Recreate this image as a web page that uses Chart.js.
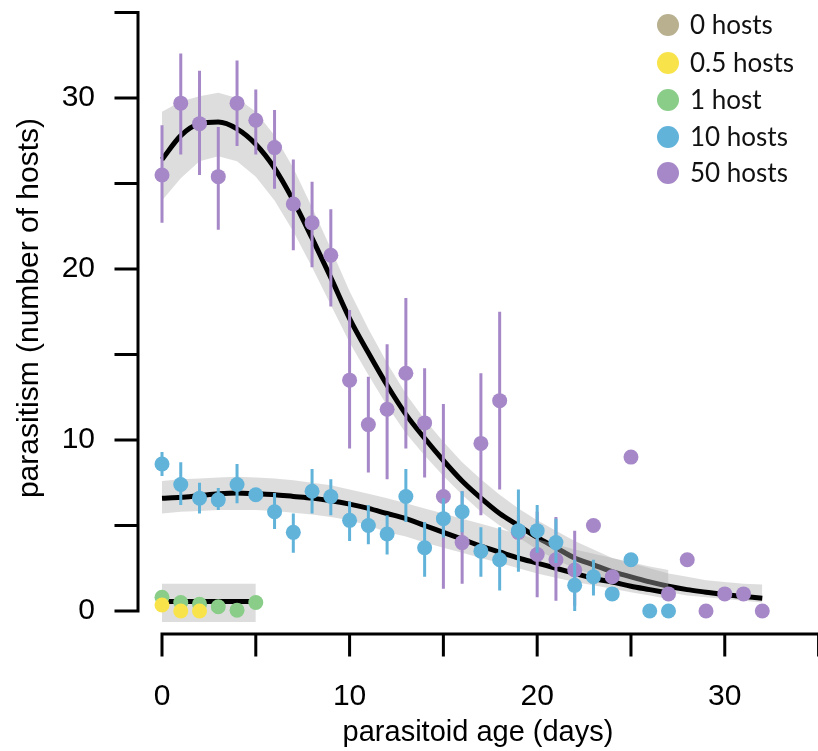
<!DOCTYPE html>
<html>
<head>
<meta charset="utf-8">
<script src="https://cdn.jsdelivr.net/npm/chart.js@4.4.1/dist/chart.umd.min.js"></script>
<style>
  html, body { margin: 0; padding: 0; background: #fff; }
  #wrap { width: 818px; height: 751px; position: relative; }
</style>
</head>
<body>
<div id="wrap"><canvas id="chart"></canvas></div>
<script>
// --- observed means with error bars ---
const days50 = [0,1,2,3,4,5,6,7,8,9,10,11,12,13,14,15,16,17,18,19,20,21,22,23,24,25,27,28,29,30,31,32];
const mean50 = [25.5,29.7,28.5,25.4,29.7,28.7,27.1,23.8,22.7,20.8,13.5,10.9,11.8,13.9,11.0,6.7,4.0,9.8,12.3,4.6,3.3,3.0,2.4,5.0,2.0,9.0,1.0,3.0,0,1.0,1.0,0];
const lo50   = [22.7,26.7,25.5,22.3,27.2,26.7,24.7,21.1,20.1,17.8,9.5,8.1,7.7,9.5,7.8,1.3,1.6,5.6,7.1,3.5,0.8,0.6,0.3,null,null,null,null,null,null,null,null,null];
const hi50   = [28.4,32.6,31.6,28.3,32.2,30.5,29.3,26.4,25.1,23.5,17.6,13.7,15.6,18.3,14.2,12.1,7.0,13.9,17.5,5.6,5.8,5.5,4.7,null,null,null,null,null,null,null,null,null];

const days10 = [0,1,2,3,4,5,6,7,8,9,10,11,12,13,14,15,16,17,18,19,20,21,22,23,24,25,26,27];
const mean10 = [8.6,7.4,6.6,6.5,7.4,6.8,5.8,4.6,7.0,6.7,5.3,5.0,4.5,6.7,3.7,5.4,5.8,3.5,3.0,4.7,4.7,4.0,1.5,2.0,1.0,3.0,0,0];
const lo10   = [7.9,6.2,5.7,5.9,6.3,6.4,4.8,3.4,5.7,5.6,4.1,3.9,3.3,5.2,2.0,4.3,4.6,2.0,1.2,2.3,3.4,2.8,0.0,0.9,null,null,null,null];
const hi10   = [9.3,8.7,7.5,7.2,8.6,7.2,6.9,5.7,8.3,7.7,6.4,6.2,5.6,8.3,5.2,6.6,7.0,4.9,4.9,7.1,6.2,5.4,3.0,3.0,null,null,null,null];

const days1  = [0,1,2,3,4,5];
const mean1  = [0.8,0.5,0.4,0.25,0.05,0.5];
const days05 = [0,1,2];
const mean05 = [0.35,0,0];
const days0  = [];
const mean0  = [];

// --- fitted curves and confidence bands ---
const fitDays50 = [0,1,2,3,4,5,6,7,8,9,10,11,12,13,14,15,16,17,18,19,20,21,22,23,24,25,26,27,28,29,30,31,32];
const fit50   = [26.4,27.8,28.5,28.6,28.2,27.3,25.9,24.0,21.8,19.5,17.1,15.1,13.2,11.5,10.1,8.8,7.6,6.6,5.7,5.0,4.3,3.7,3.1,2.7,2.3,2.0,1.7,1.45,1.25,1.1,0.95,0.85,0.75];
const fit50Lo = [24.0,25.3,26.3,26.6,26.3,25.4,24.0,22.2,20.1,17.9,15.7,13.8,12.0,10.4,9.1,7.9,6.8,5.8,5.0,4.3,3.6,3.0,2.5,2.1,1.8,1.5,1.3,1.1,0.9,0.8,0.7,0.6,0.5];
const fit50Hi = [29.2,29.8,30.1,30.3,30.0,29.2,27.8,25.9,23.6,21.2,18.7,16.5,14.5,12.7,11.2,9.9,8.7,7.7,6.8,6.0,5.3,4.7,4.1,3.6,3.1,2.8,2.5,2.2,2.0,1.8,1.7,1.6,1.55];

const fitDays10 = [0,1,2,3,4,5,6,7,8,9,10,11,12,13,14,15,16,17,18,19,20,21,22,23,24,25,26,27];
const fit10   = [6.6,6.65,6.75,6.85,6.9,6.85,6.8,6.7,6.6,6.45,6.25,6.0,5.7,5.4,5.0,4.6,4.2,3.8,3.45,3.1,2.8,2.5,2.2,1.9,1.7,1.45,1.25,1.05];
const fit10Lo = [5.7,5.8,5.85,5.9,5.9,5.9,5.85,5.75,5.65,5.5,5.3,5.0,4.6,4.35,4.0,3.7,3.4,3.1,2.8,2.5,2.2,1.95,1.7,1.5,1.3,1.1,0.9,0.7];
const fit10Hi = [7.6,7.7,7.75,7.8,7.85,7.8,7.75,7.65,7.5,7.35,7.1,6.85,6.6,6.3,6.0,5.7,5.4,5.1,4.8,4.5,4.2,3.9,3.6,3.35,3.1,2.85,2.6,2.4];

const fitDaysLow = [0,5];
const fitLow   = [0.55,0.55];
const fitLowLo = [-0.65,-0.65];
const fitLowHi = [1.6,1.6];

// --- axes and legend ---
const xTicks = [0,5,10,15,20,25,30,35];
const xLabels = [0,10,20,30];
const yTicks = [0,5,10,15,20,25,30,35];
const yLabels = [0,10,20,30];
const legendLabels = ['0 hosts','0.5 hosts','1 host','10 hosts','50 hosts'];
const legendColors = ['#b8b08f','#f8e44a','#8acd89','#62b3da','#a688c8'];

const BAND = 'rgba(175,175,175,0.42)';

function pts(xs, ys) {
    return xs.map((d, i) => ({x: d, y: ys[i]}));
}

function errSegments(xs, lo, hi) {
    const out = [];
    xs.forEach((d, i) => {
        if (lo[i] === null) return;
        out.push({x: d, y: lo[i]}, {x: d, y: hi[i]}, {x: d, y: null});
    });
    return out;
}

function bandPair(xs, lo, hi, ord) {
    return [
        {data: pts(xs, lo), borderWidth: 0, pointRadius: 0, fill: false, order: ord, clip: false},
        {data: pts(xs, hi), borderWidth: 0, pointRadius: 0, fill: '-1', backgroundColor: BAND, order: ord - 1, clip: false}
    ];
}

function curve(xs, ys, ord) {
    return {data: pts(xs, ys), borderColor: '#000', borderWidth: 5, pointRadius: 0,
            cubicInterpolationMode: 'monotone', fill: false, order: ord, clip: false};
}

function errBars(xs, lo, hi, color, ord) {
    return {data: errSegments(xs, lo, hi), borderColor: color, borderWidth: 3, pointRadius: 0,
            spanGaps: false, fill: false, order: ord, clip: false};
}

function dots(xs, ys, color, ord) {
    return {data: pts(xs, ys), showLine: false, pointRadius: 7.5, pointBorderWidth: 0,
            pointBackgroundColor: color, borderColor: color, order: ord, clip: false};
}

const datasets = [
    ...bandPair(fitDays50, fit50Lo, fit50Hi, 100),
    curve(fitDays50, fit50, 98),
    ...bandPair(fitDays10, fit10Lo, fit10Hi, 97),
    curve(fitDays10, fit10, 95),
    ...bandPair(fitDaysLow, fitLowLo, fitLowHi, 94),
    curve(fitDaysLow, fitLow, 92),
    errBars(days50, lo50, hi50, legendColors[4], 91),
    dots(days50, mean50, legendColors[4], 90),
    errBars(days10, lo10, hi10, legendColors[3], 89),
    dots(days10, mean10, legendColors[3], 88),
    dots(days0, mean0, legendColors[0], 87),
    dots(days1, mean1, legendColors[2], 86),
    dots(days05, mean05, legendColors[1], 85)
];

const AXIS_FONT = '30px "Liberation Sans", Arial, sans-serif';

const rAxes = {
    id: 'rAxes',
    beforeDatasetsDraw(chart) {
        const {ctx, scales: {x, y}} = chart;
        ctx.save();
        ctx.strokeStyle = '#000';
        ctx.lineWidth = 3;
        ctx.lineCap = 'square';
        // x axis, detached below the data
        const xAxisY = 634;
        ctx.beginPath();
        ctx.moveTo(x.getPixelForValue(xTicks[0]), xAxisY);
        ctx.lineTo(x.getPixelForValue(xTicks[xTicks.length - 1]), xAxisY);
        xTicks.forEach(v => {
            const px = x.getPixelForValue(v);
            ctx.moveTo(px, xAxisY);
            ctx.lineTo(px, xAxisY + 21);
        });
        // y axis, detached left
        const yAxisX = 138;
        ctx.moveTo(yAxisX, y.getPixelForValue(yTicks[0]));
        ctx.lineTo(yAxisX, y.getPixelForValue(yTicks[yTicks.length - 1]));
        yTicks.forEach(v => {
            const py = y.getPixelForValue(v);
            ctx.moveTo(yAxisX, py);
            ctx.lineTo(yAxisX - 22, py);
        });
        ctx.stroke();

        ctx.fillStyle = '#000';
        ctx.font = AXIS_FONT;
        ctx.textAlign = 'center';
        ctx.textBaseline = 'middle';
        xLabels.forEach(v => ctx.fillText(String(v), x.getPixelForValue(v), 697));
        ctx.textAlign = 'right';
        yLabels.forEach(v => ctx.fillText(String(v), 95, y.getPixelForValue(v)));

        // axis titles
        ctx.font = '29px "Liberation Sans", Arial, sans-serif';
        ctx.textAlign = 'center';
        ctx.textBaseline = 'alphabetic';
        ctx.fillText('parasitoid age (days)', 478, 741);
        ctx.font = '30px "Liberation Sans", Arial, sans-serif';
        ctx.translate(38, 308);
        ctx.rotate(-Math.PI / 2);
        ctx.fillText('parasitism (number of hosts)', 0, 0);
        ctx.restore();
    }
};

const pointLegend = {
    id: 'pointLegend',
    afterDraw(chart) {
        const {ctx} = chart;
        const rows = [25, 63, 100, 137, 173];
        ctx.save();
        ctx.font = '26px Lato, "Noto Sans", sans-serif';
        ctx.textAlign = 'left';
        ctx.textBaseline = 'middle';
        legendLabels.forEach((lab, i) => {
            ctx.beginPath();
            ctx.arc(668, rows[i], 11, 0, Math.PI * 2);
            ctx.fillStyle = legendColors[i];
            ctx.fill();
            ctx.fillStyle = '#111';
            ctx.fillText(lab, 690, rows[i] + 1);
        });
        ctx.restore();
    }
};

new Chart(document.getElementById('chart'), {
    type: 'line',
    data: {datasets},
    options: {
        responsive: true,
        maintainAspectRatio: false,
        animation: false,
        layout: {autoPadding: false, padding: {left: 162, right: 0, top: 12.5, bottom: 122.9}},
        scales: {
            x: {type: 'linear', min: 0, max: 34.97, display: false},
            y: {type: 'linear', min: -1, max: 35, display: false}
        },
        plugins: {
            legend: {display: false},
            tooltip: {enabled: false}
        }
    },
    plugins: [rAxes, pointLegend]
});
</script>
</body>
</html>
